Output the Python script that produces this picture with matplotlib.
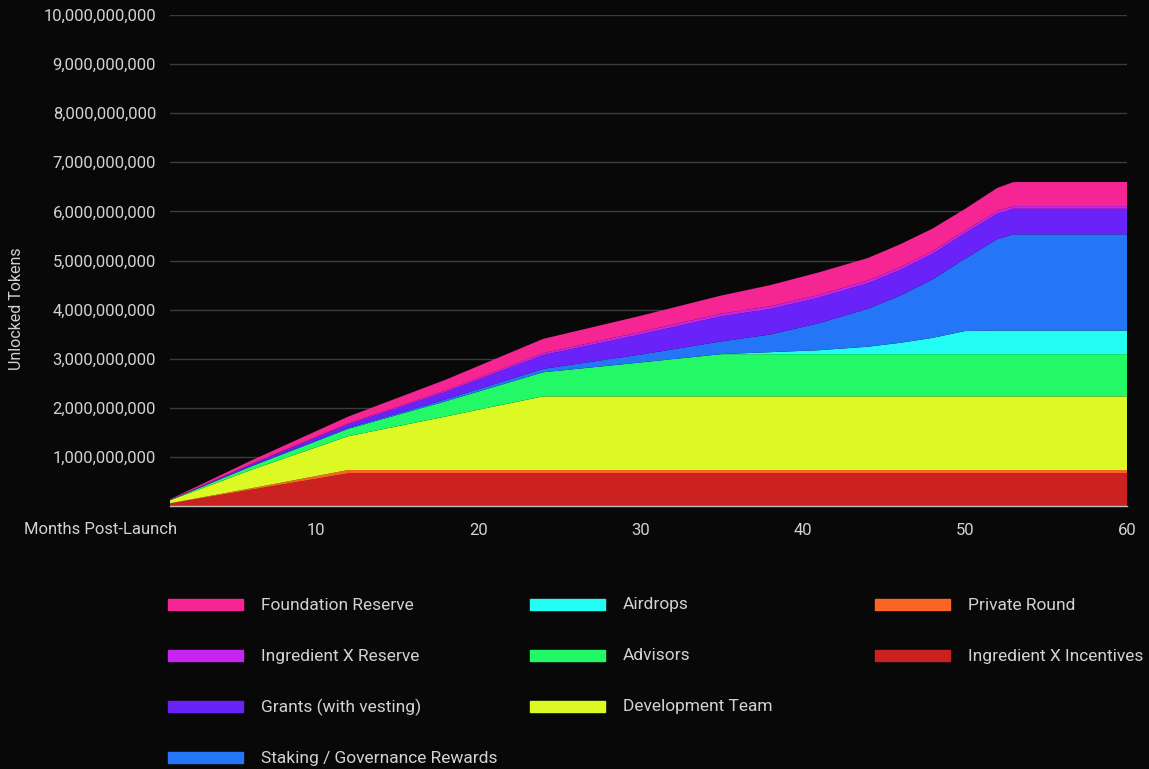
import matplotlib
matplotlib.use('Agg')
import matplotlib.pyplot as plt
from matplotlib.patches import Rectangle
from matplotlib.ticker import FuncFormatter

months = [1, 6, 12, 18, 24, 30, 35, 38, 41, 44, 46, 48, 50, 52, 53, 60]

# unlocked tokens per allocation, in billions (bottom of stack first)
incentives = [0.05, 0.33, 0.666, 0.666, 0.666, 0.666, 0.666, 0.666, 0.666, 0.666, 0.666, 0.666, 0.666, 0.666, 0.666, 0.666]
private_round = [0.005, 0.03, 0.067, 0.067, 0.067, 0.067, 0.067, 0.067, 0.067, 0.067, 0.067, 0.067, 0.067, 0.067, 0.067, 0.067]
dev_team = [0.06, 0.375, 0.69, 1.09, 1.5, 1.5, 1.5, 1.5, 1.5, 1.5, 1.5, 1.5, 1.5, 1.5, 1.5, 1.5]
advisors = [0.005, 0.07, 0.15, 0.31, 0.49, 0.69, 0.86, 0.86, 0.86, 0.86, 0.86, 0.86, 0.86, 0.86, 0.86, 0.86]
airdrops = [0, 0, 0, 0, 0, 0, 0, 0.04, 0.08, 0.15, 0.23, 0.33, 0.47, 0.48, 0.48, 0.48]
staking = [0, 0.01, 0.02, 0.04, 0.07, 0.16, 0.26, 0.36, 0.55, 0.77, 0.96, 1.19, 1.47, 1.86, 1.96, 1.96]
grants = [0.005, 0.03, 0.07, 0.15, 0.28, 0.41, 0.51, 0.52, 0.52, 0.52, 0.52, 0.52, 0.52, 0.52, 0.52, 0.52]
x_reserve = [0.002, 0.01, 0.02, 0.03, 0.04, 0.05, 0.055, 0.055, 0.055, 0.055, 0.055, 0.055, 0.055, 0.055, 0.055, 0.055]
foundation = [0.01, 0.07, 0.14, 0.22, 0.29, 0.33, 0.37, 0.43, 0.46, 0.46, 0.47, 0.46, 0.44, 0.47, 0.49, 0.49]

series = [incentives, private_round, dev_team, advisors, airdrops,
          staking, grants, x_reserve, foundation]
names = ['Ingredient X Incentives', 'Private Round', 'Development Team', 'Advisors',
         'Airdrops', 'Staking / Governance Rewards', 'Grants (with vesting)',
         'Ingredient X Reserve', 'Foundation Reserve']
colors = ['#cc2121', '#fa6425', '#ddf924', '#23f966', '#22fcf3',
          '#2575f7', '#6922f8', '#c624f1', '#f62594']

# legend order as in the original (column by column)
legend_cols = [
    ['Foundation Reserve', 'Ingredient X Reserve', 'Grants (with vesting)', 'Staking / Governance Rewards'],
    ['Airdrops', 'Advisors', 'Development Team'],
    ['Private Round', 'Ingredient X Incentives'],
]

bg = '#080808'
txt = '#d2d2d2'
plt.rcParams['font.family'] = ['Roboto', 'DejaVu Sans']

fig = plt.figure(figsize=(11.49, 7.69), dpi=100, facecolor=bg)
ax = fig.add_axes([170/1149, 1-506/769, 957/1149, 491/769])
ax.set_facecolor(bg)

vals = [[v*1e9 for v in s] for s in series]
ax.stackplot(months, *vals, colors=colors, linewidth=0)

ax.set_xlim(1, 60)
ax.set_ylim(0, 1e10)
ax.set_yticks([i*1e9 for i in range(1, 11)])
ax.yaxis.set_major_formatter(FuncFormatter(lambda v, p: f'{int(round(v)):,}'))
ax.set_xticks([10, 20, 30, 40, 50, 60])
ax.grid(axis='y', color='#3c3c3c', linewidth=1)
ax.set_axisbelow(True)
for s in ['top', 'right', 'left']:
    ax.spines[s].set_visible(False)
ax.spines['bottom'].set_color('#bdbdbd')
ax.spines['bottom'].set_linewidth(1)
ax.tick_params(axis='both', length=0, colors=txt, labelsize=12)
ax.tick_params(axis='y', pad=10)
ax.tick_params(axis='x', pad=12)

fig.text(101/1149, 1-530/769, 'Months Post-Launch', color=txt, fontsize=12,
         ha='center', va='center')
fig.text(17/1149, 1-309/769, 'Unlocked Tokens', color=txt, fontsize=11.5,
         rotation=90, ha='center', va='center')

# legend drawn by hand to keep the 4/3/2 column layout
col_x = [168, 530, 875]
row_y = [604, 655, 706, 757]
for cx, col in zip(col_x, legend_cols):
    for ry, name in zip(row_y, col):
        c = colors[names.index(name)]
        fig.patches.append(Rectangle((cx/1149, 1-(ry+6)/769), 75/1149, 11/769,
                                     transform=fig.transFigure, color=c, figure=fig))
        fig.text((cx+93)/1149, 1-(ry+1)/769, name, color=txt, fontsize=12.5,
                 ha='left', va='center')

fig.savefig('out.png', dpi=100, facecolor=bg)
